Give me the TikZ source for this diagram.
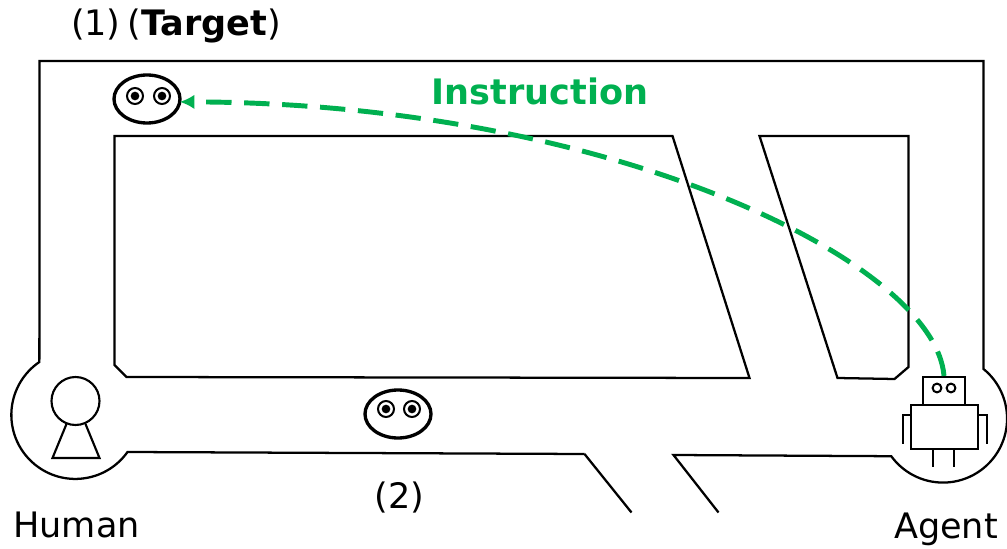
\documentclass[tikz,border=0pt]{standalone}
\usepackage{fontspec}
\setmainfont{DejaVu Sans}
\usetikzlibrary{shapes.geometric,arrows.meta}
\definecolor{instgreen}{RGB}{0,176,80}
\tikzset{
  wall/.style={line width=1.7pt,line join=miter},
  fig/.style={line width=1.6pt},
  head/.style={draw,ellipse,line width=2.5pt,minimum width=49.5pt,minimum height=36pt,inner sep=0pt,outer sep=0pt},
  eyeout/.style={draw,circle,line width=1.5pt,minimum size=12pt,inner sep=0pt},
  pupil/.style={fill,circle,minimum size=6.5pt,inner sep=0pt},
  roboteye/.style={draw,circle,line width=1.5pt,minimum size=6.6pt,inner sep=0pt},
  lab/.style={font=\fontsize{26.3}{30}\selectfont,inner sep=0pt}
}
\begin{document}
\begin{tikzpicture}[x=0.75pt,y=-0.75pt]
\useasboundingbox (0,0) rectangle (1007,549);
% outer walls
\draw[wall] (584.5,454) -- (127.5,452) arc[start angle=35.4,end angle=235.8,radius=64] -- (39.6,61) -- (983.5,61) -- (983.5,369)
  arc[start angle=-50.8,end angle=144,radius=64] -- (673.5,455) -- (718.5,512.5);
\draw[wall] (584.5,454) -- (631.5,512.5);
% inner blocks
\draw[wall] (114.5,136) -- (672.5,136) -- (749.5,378) -- (126.5,377) -- (114.5,365) -- cycle;
\draw[wall] (759.5,136) -- (908.5,136) -- (908.5,367) -- (894.5,379) -- (837.5,378) -- cycle;
% human
\node[draw,circle,fig,minimum size=36pt,inner sep=0pt] (humanhead) at (75.5,401) {};
\draw[fig] (66.5,424) -- (52.5,458) -- (99.5,458) -- (85.5,424);
% robot
\node[draw,fig,minimum width=31pt,minimum height=21pt,inner sep=0pt] (robothead) at (944,391) {};
\node[draw,fig,minimum width=50pt,minimum height=33pt,inner sep=0pt] (robotbody) at (944.5,427) {};
\node[roboteye] (reye1) at (937,388) {};
\node[roboteye] (reye2) at (951,388) {};
\draw[fig] (911,415) -- (903,415) -- (903,444);
\draw[fig] (978,415) -- (987,415) -- (987,444);
\draw[fig] (933,449) -- (933,467);
\draw[fig] (954,449) -- (954,467);
% faces
\node[head] (target) at (147,99) {};
\node[eyeout] (t1) at (135,96) {};
\node[pupil] (t1p) at (135,96) {};
\node[eyeout] (t2) at (162,96) {};
\node[pupil] (t2p) at (162,96) {};
\node[head] (other) at (398,414) {};
\node[eyeout] (o1) at (386,409) {};
\node[pupil] (o1p) at (386,409) {};
\node[eyeout] (o2) at (412,409) {};
\node[pupil] (o2p) at (412,409) {};
% instruction curve
\draw[instgreen,line width=3.7pt,dash pattern=on 19pt off 9.5pt,-{Latex[length=11pt,width=11pt]}]
  (robothead.north) .. controls (935,262) and (610,103) .. (target.-5);
% labels
\node[lab,text=instgreen,font=\fontsize{26.3}{30}\selectfont\bfseries] (inst) at (540,91.5) {Instruction};
\node[lab] (one) at (176,26) {(1)\kern-0.12em\ (\textbf{Target})};
\node[lab] (two) at (399.5,497.5) {(2)};
\node[lab] (human) at (76.5,524.5) {Human};
\node[lab] (agent) at (946,529) {Agent};
\end{tikzpicture}
\end{document}
